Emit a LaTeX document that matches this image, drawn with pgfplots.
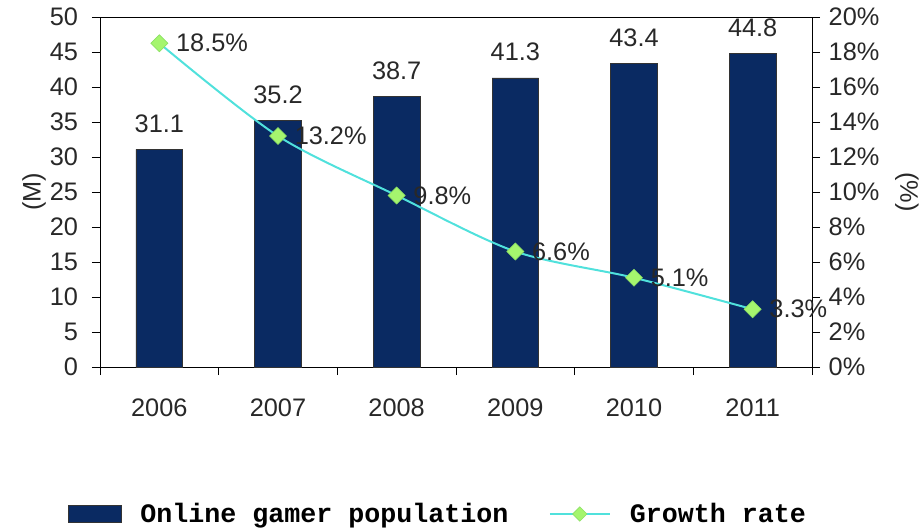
\documentclass[border=0pt]{standalone}
\usepackage{fontspec}
\setmainfont{Liberation Sans}
\setmonofont{Liberation Mono}
\usepackage{pgfplots}
\pgfplotsset{compat=1.18}
\definecolor{navy}{RGB}{10,42,98}
\definecolor{turq}{RGB}{80,225,220}
\definecolor{mkfill}{RGB}{165,245,110}
\definecolor{mkdraw}{RGB}{140,225,100}
\definecolor{tickgray}{RGB}{40,40,40}
\pgfplotsset{growth legend/.style={legend image code/.code={%
  \draw[##1, mark=none, line width=2pt] (0pt,0pt) -- (45pt,0pt);
  \draw[##1, only marks, mark size=3.8pt] plot coordinates {(22.5pt,0pt)};}}}
\begin{document}
\begin{tikzpicture}
\begin{axis}[
  scale only axis, width=534pt, height=262.5pt,
  xmin=-0.5, xmax=5.5, ymin=0, ymax=50,
  xtick={0,...,5}, xticklabels={2006,2007,2008,2009,2010,2011},
  major x tick style={draw=none},
  minor xtick={-0.5,0.5,...,5.5},
  xtick pos=bottom, ytick pos=left,
  ytick={0,5,...,50},
  tick align=outside, major tick length=6pt, minor tick length=6pt,
  tick style={black, line width=0.6pt},
  axis line style={line width=0.6pt},
  every tick label/.style={font=\fontsize{19}{21}\selectfont, text=tickgray},
  /pgf/number format/assume math mode=true,
  xticklabel style={yshift=-14pt},
  yticklabel style={xshift=-7pt},
  ylabel={(M)}, ylabel style={font=\fontsize{19}{21}\selectfont, text=tickgray, yshift=-4pt},
  legend style={at={(axis description cs:0.475,-0.42)}, anchor=center, draw=none,
    font=\ttfamily\bfseries\fontsize{20}{22}\selectfont, legend columns=2,
    /tikz/every odd column/.append style={column sep=12pt},
    /tikz/every even column/.append style={column sep=28pt}},
]
\addplot[ybar, bar width=35pt, fill=navy, draw=black!80, line width=0.4pt,
  nodes near coords, point meta=explicit symbolic,
  every node near coord/.append style={font=\fontsize{19}{21}\selectfont, text=tickgray, anchor=south, yshift=9pt},
  legend image code/.code={\draw[fill=navy, draw=black!80] (0pt,-6.5pt) rectangle (40pt,6.5pt);}]
  table[meta=lab] {
x y lab
0 31.1 31.1
1 35.2 35.2
2 38.7 38.7
3 41.3 41.3
4 43.4 43.4
5 44.8 44.8
};
\addlegendentry{Online gamer population}
\addlegendimage{color=turq, line width=1.5pt, mark=square*, mark size=4.5pt,
  mark options={fill=mkfill, draw=mkdraw, line width=0.5pt, rotate=45}, growth legend}
\addlegendentry{Growth rate}
\end{axis}
\begin{axis}[
  scale only axis, width=534pt, height=262.5pt,
  xmin=-0.5, xmax=5.5, ymin=0, ymax=20,
  axis x line=none, axis y line*=right,
  ytick={0,2,...,20},
  yticklabel={\pgfmathprintnumber{\tick}\%},
  tick align=outside, major tick length=6pt,
  tick style={black, line width=0.6pt},
  axis line style={line width=0.6pt},
  every tick label/.style={font=\fontsize{19}{21}\selectfont, text=tickgray},
  /pgf/number format/assume math mode=true,
  yticklabel style={xshift=3pt},
  ylabel={(\%)}, ylabel style={font=\fontsize{19}{21}\selectfont, text=tickgray, rotate=180, yshift=5pt},
]
\addplot[color=turq, line width=1.5pt, smooth, mark=square*, mark size=4.5pt,
  mark options={fill=mkfill, draw=mkdraw, line width=0.5pt, rotate=45},
  nodes near coords, point meta=explicit symbolic,
  every node near coord/.append style={font=\fontsize{19}{21}\selectfont, text=tickgray, anchor=west, xshift=9pt, yshift=0pt}]
  table[meta=lab] {
x y lab
0 18.5 18.5\%
1 13.2 13.2\%
2 9.8 9.8\%
3 6.6 6.6\%
4 5.1 5.1\%
5 3.3 3.3\%
};
\end{axis}
\pgfresetboundingbox
\useasboundingbox (-75pt,-121.5pt) rectangle (616.5pt,275.25pt);
\end{tikzpicture}
\end{document}
